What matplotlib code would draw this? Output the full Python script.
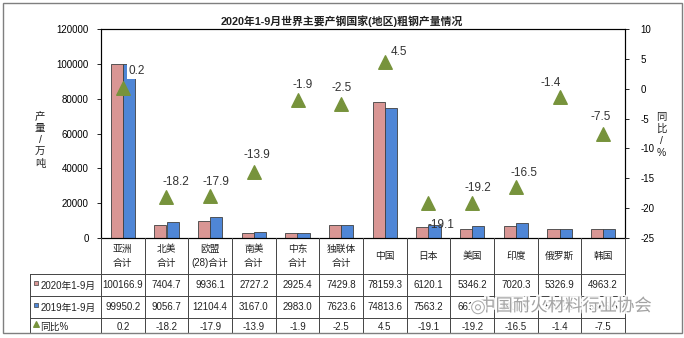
import numpy as np
import matplotlib
matplotlib.use('Agg')
import matplotlib.pyplot as plt
import matplotlib.patheffects as pe
from matplotlib.patches import Rectangle

plt.rcParams['font.family'] = ['Liberation Sans', 'Noto Sans CJK SC', 'DejaVu Sans']

# ── Data ──────────────────────────────────────────────────────────────────────
categories = ['亚洲\n合计', '北美\n合计', '欧盟\n(28)合计', '南美\n合计', '中东\n合计',
              '独联体\n合计', '中国', '日本', '美国', '印度', '俄罗斯', '韩国']
output_2020 = [100166.9, 7404.7, 9936.1, 2727.2, 2925.4, 7429.8,
               78159.3, 6120.1, 5346.2, 7020.3, 5326.9, 4963.2]
output_2019 = [99950.2, 9056.7, 12104.4, 3167.0, 2983.0, 7623.6,
               74813.6, 7563.2, 6616.6, 8407.5, 5402.5, 5365.6]
yoy_pct = [0.2, -18.2, -17.9, -13.9, -1.9, -2.5, 4.5, -19.1, -19.2, -16.5, -1.4, -7.5]

row_names = ['2020年1-9月', '2019年1-9月', '同比%']
left_ticks = [0, 20000, 40000, 60000, 80000, 100000, 120000]
right_ticks = [-25, -20, -15, -10, -5, 0, 5, 10]

# label offsets for the yoy triangles (points)
label_offsets = [(10, 12), (7, 11), (4, 10), (2, 12), (4, 11), (0, 11),
                 (10, 7), (9, -16), (4, 11), (6, 10), (-6, 10), (-2, 12)]

C20 = '#D99694'
C19 = '#4F86D6'
CTRI = '#77933C'

W, H = 684, 338
fig = plt.figure(figsize=(W / 100, H / 100), dpi=100)

def px(x0, y0, x1, y1):
    # pixel box (top-left origin) -> figure fraction rect
    return [x0 / W, 1 - y1 / H, (x1 - x0) / W, (y1 - y0) / H]

# outer frame
fig.patches.append(Rectangle((3 / W, 1 - 333 / H), 679 / W, 330 / H, transform=fig.transFigure,
                             fill=False, edgecolor='#7f7f7f', linewidth=1.0))

ax = fig.add_axes(px(101, 29, 625, 238))
x = np.arange(len(categories))
bw = 0.28
ax.bar(x - bw / 2, output_2020, bw, color=C20, edgecolor='#404040', linewidth=0.6)
ax.bar(x + bw / 2, output_2019, bw, color=C19, edgecolor='#404040', linewidth=0.6)
ax.set_xlim(-0.5, len(categories) - 0.5)
ax.set_ylim(0, 120000)
ax.set_yticks(left_ticks)
ax.set_yticklabels([str(t) for t in left_ticks], fontsize=7)
ax.set_xticks([])
ax.tick_params(axis='y', direction='out', length=3, width=0.6, pad=6)
for s in ax.spines.values():
    s.set_linewidth(0.8)
    s.set_color('#333333')

ax2 = ax.twinx()
ax2.scatter(x, yoy_pct, marker='^', s=95, color=CTRI, zorder=5)
ax2.set_ylim(-25, 10)
ax2.set_yticks(right_ticks)
ax2.set_yticklabels([str(t) for t in right_ticks], fontsize=7)
ax2.tick_params(axis='y', direction='out', length=3, width=0.6, pad=8)
ax2.set_xlim(-0.5, len(categories) - 0.5)
for i, v in enumerate(yoy_pct):
    dx, dy = label_offsets[i]
    bbox = dict(boxstyle='square,pad=0.15', fc='white', ec='none') if i == 0 else None
    ax2.annotate(f'{v:g}', xy=(i, v), xytext=(dx, dy), textcoords='offset points',
                 ha='center', va='center', fontsize=8.5, color='#333333', bbox=bbox, zorder=6)

fig.text(342 / W, 1 - 21 / H, '2020年1-9月世界主要产钢国家(地区)粗钢产量情况',
         ha='center', va='center', fontsize=7.8, fontweight='bold', color='#222222')
fig.text(40 / W, 1 - 140 / H, '产\n量\n/\n万\n吨', ha='center', va='center',
         fontsize=7.5, linespacing=1.25, color='#222222')
fig.text(661 / W, 1 - 135 / H, '同\n比\n/\n%', ha='center', va='center',
         fontsize=7.5, linespacing=1.25, color='#222222')

# ── Data table under the axis ────────────────────────────────────────────────
cw = 524 / len(categories)
legend_w = 71 / cw
tab = fig.add_axes(px(30, 238, 625, 333))
tab.set_xlim(-0.5 - legend_w, len(categories) - 0.5)
tab.set_ylim(333, 238)
tab.axis('off')

lc = '#444444'
row_edges = [238, 274, 296, 318, 333]
tab.plot([-0.5 - legend_w, len(categories) - 0.5], [274, 274], color=lc, lw=0.7, clip_on=False)
tab.plot([-0.5 - legend_w, len(categories) - 0.5], [296, 296], color=lc, lw=0.7, clip_on=False)
tab.plot([-0.5 - legend_w, len(categories) - 0.5], [318, 318], color=lc, lw=0.7, clip_on=False)
tab.plot([-0.5 - legend_w, -0.5 - legend_w], [274, 333], color=lc, lw=0.7, clip_on=False)
for b in np.arange(len(categories) + 1) - 0.5:
    tab.plot([b, b], [238, 333], color=lc, lw=0.7, clip_on=False)

for i, c in enumerate(categories):
    tab.text(i, 256, c, ha='center', va='center', fontsize=7, linespacing=1.55, color='#222222')
    tab.text(i, 285.5, f'{output_2020[i]:.1f}', ha='center', va='center', fontsize=7, color='#222222')
    tab.text(i, 307.5, f'{output_2019[i]:.1f}', ha='center', va='center', fontsize=7, color='#222222')
    tab.text(i, 326.5, f'{yoy_pct[i]:g}', ha='center', va='center', fontsize=7, color='#222222')

lx = -0.5 - legend_w
tab.scatter([lx + 0.14], [283], marker='s', s=12, color=C20, edgecolor='#404040', linewidth=0.5, clip_on=False)
tab.scatter([lx + 0.14], [305], marker='s', s=12, color=C19, edgecolor='#404040', linewidth=0.5, clip_on=False)
tab.scatter([lx + 0.14], [324], marker='^', s=16, color=CTRI, clip_on=False)
for yy, name in zip([285.5, 307.5, 326.5], row_names):
    tab.text(lx + 0.24, yy, name, ha='left', va='center', fontsize=7, color='#222222')

# watermark
fig.text(565 / W, 1 - 306 / H, '中国耐火材料行业协会', ha='center', va='center',
         fontsize=12.5, color='#9a9a9a', alpha=0.9,
         path_effects=[pe.withStroke(linewidth=3, foreground='white')])
fig.text(478 / W, 1 - 307 / H, '◎', ha='center', va='center', fontsize=13,
         color='#aaaaaa', family=['DejaVu Sans'],
         path_effects=[pe.withStroke(linewidth=2.5, foreground='white')])

fig.savefig('out.png', dpi=100)
